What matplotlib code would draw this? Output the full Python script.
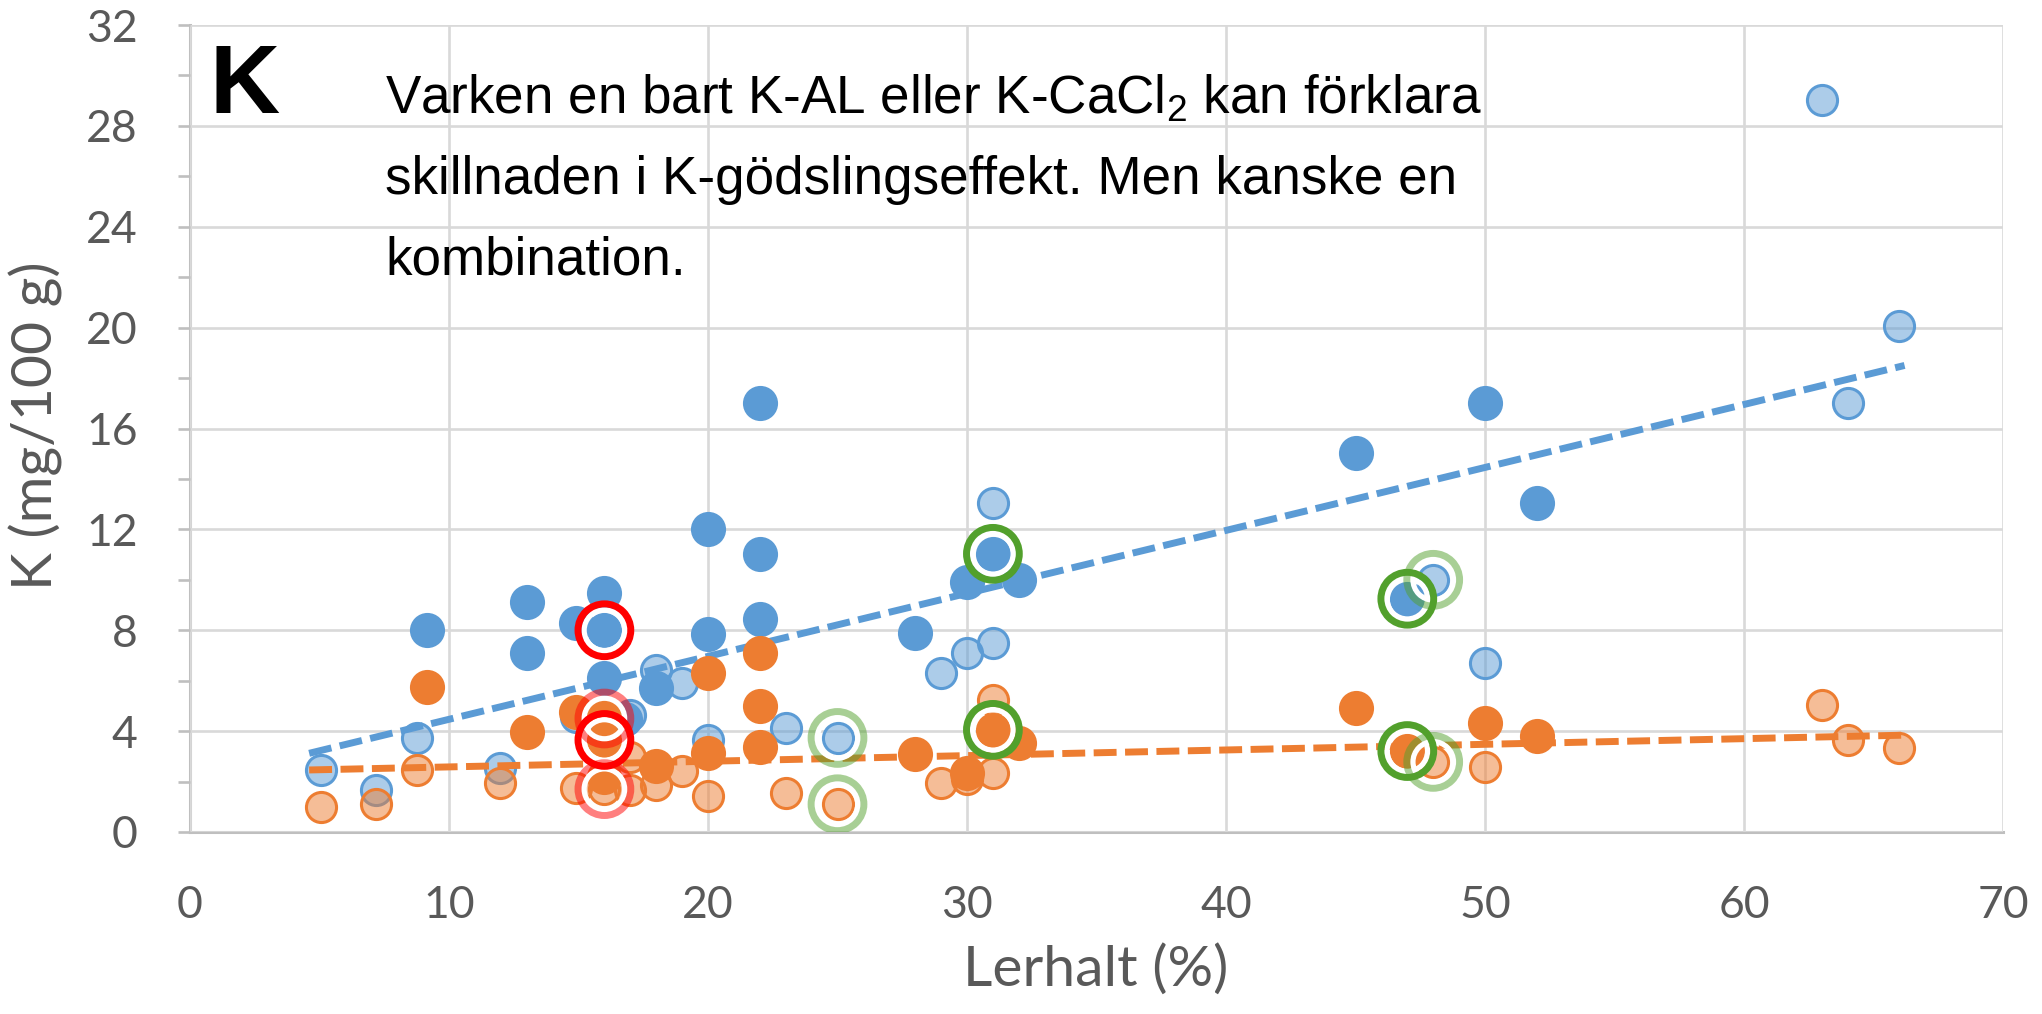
import numpy as np
import matplotlib
matplotlib.use("Agg")
import matplotlib.pyplot as plt
from matplotlib.ticker import MultipleLocator

plt.rcParams['mathtext.fontset'] = 'custom'
plt.rcParams['mathtext.rm'] = 'Liberation Sans'
plt.rcParams['mathtext.it'] = 'Liberation Sans'

# ---------------- data ----------------
# Series A (solid markers): K-AL (blue) and K-CaCl2 (orange)
a_al_x = [9.15, 13, 13, 14.9, 16, 16, 16, 16.8, 18, 20, 20, 22, 22, 22, 28, 30, 31, 32, 45, 47, 50, 52]
a_al_y = [8.0, 9.13, 7.1, 8.3, 9.48, 8.0, 6.1, 4.5, 5.7, 12.0, 7.86, 17.0, 11.03, 8.45, 7.9, 9.9, 11.03, 10.0, 15.04, 9.25, 17.02, 13.05]
a_ca_x = [9.15, 13, 14.9, 16, 16, 16, 18, 20, 20, 22, 22, 22, 28, 30, 31, 32, 45, 47, 50, 52]
a_ca_y = [5.75, 3.97, 4.76, 4.6, 3.65, 2.2, 2.62, 6.3, 3.13, 7.1, 5.0, 3.37, 3.1, 2.33, 4.05, 3.53, 4.92, 3.21, 4.33, 3.81]

# Series B (light markers)
b_al_x = [5.06, 7.2, 8.76, 11.97, 14.9, 16, 17, 18, 19, 20, 23, 25, 29, 30, 31, 31, 48, 50, 63, 64, 66]
b_al_y = [2.46, 1.67, 3.73, 2.54, 4.56, 4.5, 4.64, 6.43, 5.92, 3.65, 4.13, 3.73, 6.3, 7.1, 7.5, 13.05, 10.0, 6.7, 29.03, 17.03, 20.06]
b_ca_x = [5.06, 7.2, 8.76, 11.97, 14.9, 16, 17, 17, 18, 19, 20, 23, 25, 29, 30, 31, 31, 48, 50, 63, 64, 66]
b_ca_y = [1.0, 1.1, 2.46, 1.94, 1.74, 1.7, 2.98, 1.67, 1.85, 2.42, 1.42, 1.55, 1.1, 1.94, 2.1, 5.24, 2.33, 2.78, 2.58, 5.05, 3.64, 3.33]

# linear trendlines (end points)
trend_x = [4.6, 66.2]
trend_al_y = [3.12, 18.5]
trend_ca_y = [2.46, 3.84]

# highlighted points (rings)
red_x = [16, 16]
red_y = [8.0, 3.65]
lightred_x = [16, 16]
lightred_y = [4.5, 1.7]
green_x = [31, 31, 47, 47]
green_y = [11.03, 4.05, 9.25, 3.21]
lightgreen_x = [25, 25, 48, 48]
lightgreen_y = [3.73, 1.1, 10.0, 2.78]

x_ticks = [0, 10, 20, 30, 40, 50, 60, 70]
y_ticks = [0, 4, 8, 12, 16, 20, 24, 28, 32]

note_lines = ["Varken en bart K-AL eller K-CaCl$_2$ kan förklara",
              "skillnaden i K-gödslingseffekt. Men kanske en",
              "kombination."]
panel_letter = "K"
x_label = "Lerhalt (%)"
y_label = "K (mg/100 g)"

# ---------------- style ----------------
BLUE = '#5B9BD5'
ORANGE = '#ED7D31'
GREEN = '#52A02C'
RED = '#FF0000'
GRID = '#D9D9D9'
AXC = '#BFBFBF'
TXT = '#595959'
W, H = 2042, 1014

fig = plt.figure(figsize=(W / 100, H / 100), dpi=100)
ax = fig.add_axes([190 / W, 1 - 832 / H, (2003 - 190) / W, (832 - 25) / H])
ax.set_xlim(0, 70)
ax.set_ylim(0, 32)
ax.set_xticks(x_ticks)
ax.set_yticks(y_ticks)
ax.yaxis.set_minor_locator(MultipleLocator(2))
ax.set_axisbelow(True)
ax.grid(True, which='major', color=GRID, lw=1.9)
for s in ['top', 'right']:
    ax.spines[s].set_visible(False)
for s in ['left', 'bottom']:
    ax.spines[s].set_color(AXC)
    ax.spines[s].set_linewidth(2.2)
    ax.spines[s].set_zorder(0.5)

tick_font = 'Lato'
ax.tick_params(axis='y', which='both', direction='out', length=8.6, width=1.9, color=AXC,
               labelsize=32, labelcolor=TXT, pad=29)
ax.tick_params(axis='y', which='minor', labelleft=False)
ax.tick_params(axis='x', which='both', length=0, labelsize=32, labelcolor=TXT, pad=38)
for lab in ax.get_xticklabels() + ax.get_yticklabels():
    lab.set_fontfamily(tick_font)

# light markers (series B)
ms_light = 470
ax.scatter(b_al_x, b_al_y, s=ms_light, facecolor=(0.357, 0.608, 0.835, 0.5), edgecolor=BLUE,
           linewidth=2.2, zorder=2)
ax.scatter(b_ca_x, b_ca_y, s=ms_light, facecolor=(0.929, 0.490, 0.192, 0.5), edgecolor=ORANGE,
           linewidth=2.2, zorder=2)

# trendlines
for ty, col in [(trend_al_y, BLUE), (trend_ca_y, ORANGE)]:
    ax.plot(trend_x, ty, color=col, lw=5.0, linestyle=(0, (3.3, 1.22)),
            dash_capstyle='butt', zorder=3)

# solid markers (series A)
ms_dark = 640
ax.scatter(a_al_x, a_al_y, s=ms_dark, color=BLUE, linewidth=0, zorder=4)
ax.scatter(a_ca_x, a_ca_y, s=ms_dark, color=ORANGE, linewidth=0, zorder=4)

# highlight rings
ring_s = 38 ** 2
white_s = 29.2 ** 2
for xs, ys, col, alpha in [(lightred_x, lightred_y, RED, 0.5), (red_x, red_y, RED, 1.0),
                           (lightgreen_x, lightgreen_y, GREEN, 0.5), (green_x, green_y, GREEN, 1.0)]:
    ax.scatter(xs, ys, s=white_s, facecolor='none', edgecolor='white', linewidth=3.8, zorder=5)
    ax.scatter(xs, ys, s=ring_s, facecolor='none', edgecolor=col, alpha=alpha, linewidth=5.0, zorder=6)

# texts
fig.text(210 / W, 1 - 113 / H, panel_letter, fontsize=70, fontweight='bold',
         family='Liberation Sans', color='black', va='baseline', ha='left')
for line, base in zip(note_lines, [114, 194, 275]):
    fig.text(385 / W, 1 - base / H, line, fontsize=38.2, family='Liberation Sans',
             color='black', va='baseline', ha='left')

fig.text(1096 / W, 1 - 970 / H, x_label, fontsize=41, family=tick_font, color=TXT,
         ha='center', va='center')
fig.text(36 / W, 1 - 426 / H, y_label, fontsize=41, family=tick_font, color=TXT,
         ha='center', va='center', rotation=90)

fig.savefig('out.png', dpi=100, facecolor='white')
